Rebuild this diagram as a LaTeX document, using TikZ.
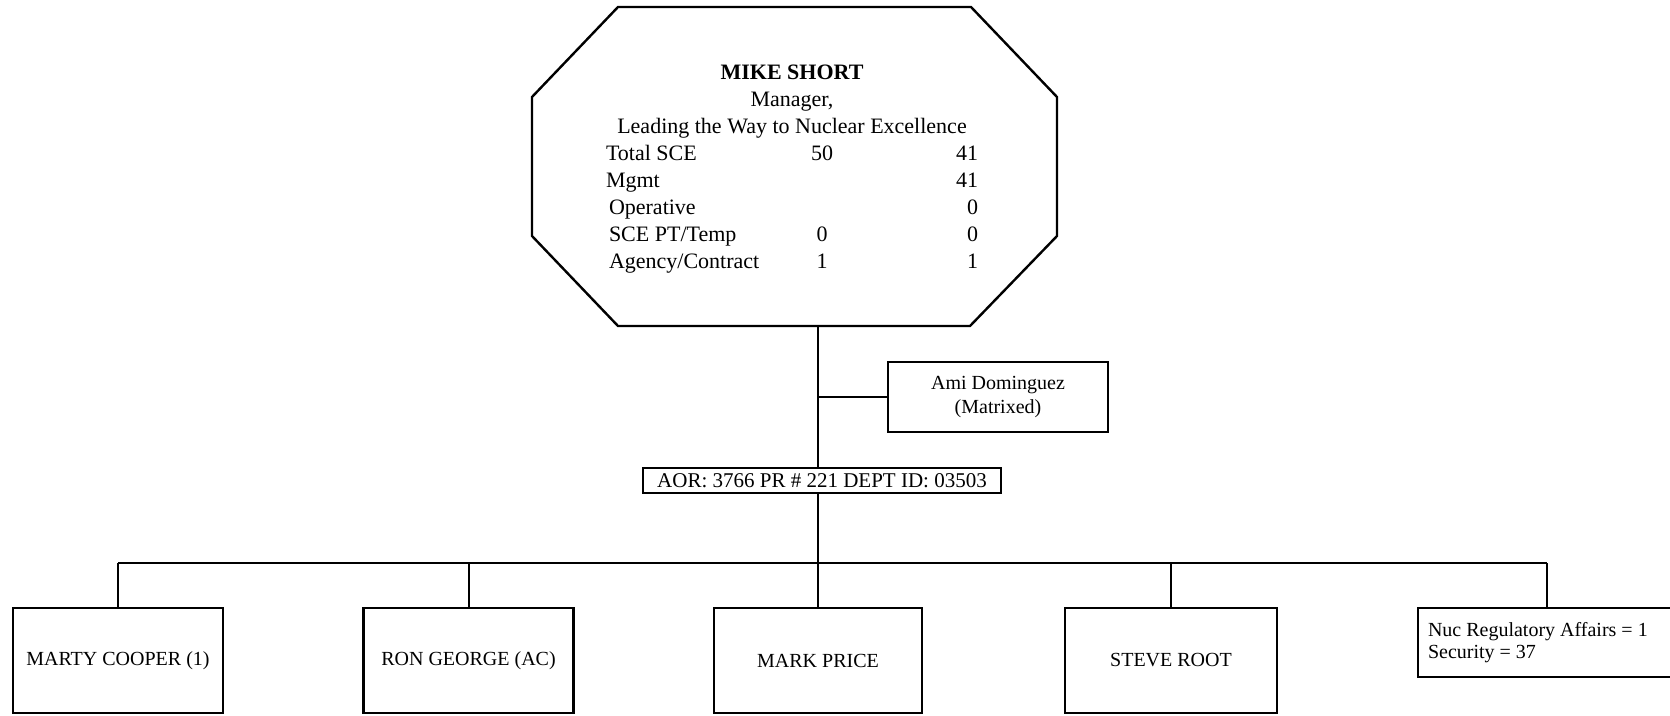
\documentclass[tikz,border=0pt]{standalone}
\usepackage{fontspec}
\setmainfont{Liberation Serif}
\newcommand\statrow[3]{\hbox to 372pt{\rlap{#1}\hskip216pt\hbox to 0pt{\hss#2\hss}\hfill #3}}
\begin{document}
\begin{tikzpicture}[x=1pt,y=-1pt,line width=2pt,
  box/.style={draw, line width=2.2pt, inner sep=0pt, align=center, font=\fontsize{20}{24}\selectfont},
  leaf/.style={box, minimum width=210pt, minimum height=105pt},
  conn/.style={line width=2pt}]
\useasboundingbox (0,0) rectangle (1670,715);
% octagon
\draw[line width=2.4pt, line join=miter] (618,7) -- (971,7) -- (1057,97) -- (1057,236) -- (970,326) -- (618,326) -- (532,236) -- (532,97) -- cycle;
\node[font=\fontsize{22}{27}\selectfont, align=center, inner sep=0pt] (mike) at (792,169) {%
\textbf{MIKE SHORT}\\
Manager,\\
Leading the Way to Nuclear Excellence\\
\statrow{Total SCE}{50}{41}\\
\statrow{Mgmt}{}{41}\\
\statrow{\hspace{3pt}Operative}{}{0}\\
\statrow{\hspace{3pt}SCE PT/Temp}{0}{0}\\
\statrow{\hspace{3pt}Agency/Contract}{1}{1}};
\node[box, minimum width=220pt, minimum height=70pt] (ami) at (998,397) {Ami Dominguez\\(Matrixed)};
\node[box, minimum width=358pt, minimum height=25pt, font=\fontsize{21}{24}\selectfont] (aor) at (822,480.5) {AOR: 3766 PR \# 221 DEPT ID: 03503};
\node[leaf] (marty) at (118,660.5) {MARTY COOPER (1)};
\node[leaf] (ron) at (468.5,660.5) {RON GEORGE (AC)};
\node[leaf, minimum width=208pt] (mark) at (818,660.5) {MARK PRICE};
\node[leaf, minimum width=212pt] (steve) at (1171,660.5) {STEVE ROOT};
\node[anchor=west, inner sep=0pt, align=left, font=\fontsize{20}{22}\selectfont] (nuc) at (1427,642.5) {Nuc Regulatory Affairs = 1\\Security = 37};
\draw[line width=2.2pt] (1690,608) -| (1418,677) -- (1690,677);
% connectors
\coordinate (trunk) at (818,326);
\coordinate (busL) at (118,563);
\coordinate (busR) at (1547,563);
\coordinate (nuctop) at (1547,608);
\draw[conn] (trunk) -- (trunk |- aor.north);
\draw[conn] (trunk |- ami.west) -- (ami.west);
\draw[conn] (aor.south -| trunk) -- (mark.north);
\draw[conn] (busL) -- (busR);
\draw[conn] (busL) -- (marty.north);
\draw[conn] (ron.north |- busL) -- (ron.north);
\draw[conn] (steve.north |- busL) -- (steve.north);
\draw[conn] (busR) -- (nuctop);
\end{tikzpicture}
\end{document}
